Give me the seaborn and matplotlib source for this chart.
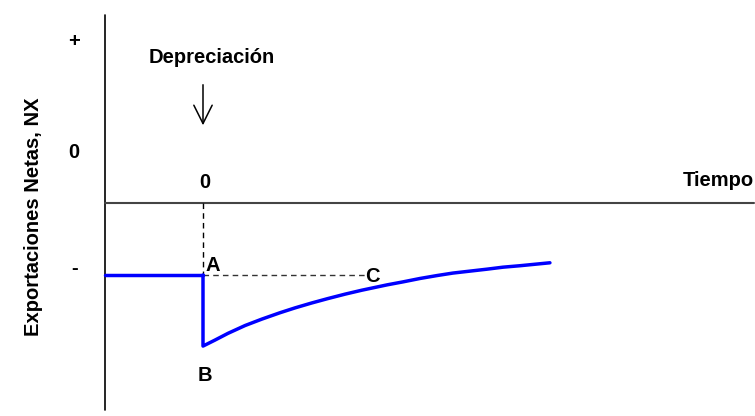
import numpy as np
import pandas as pd
import seaborn as sns
import matplotlib.pyplot as plt

# J-curve: net exports after a depreciation (time 0)
t_pre = [-2.0, 0.0]
nx_pre = [-1.47, -1.47]
t_post = [0.0, 0.0, 0.24, 0.51, 0.86, 1.20, 1.57, 1.88, 2.22, 2.55, 2.90, 3.24,
          3.76, 4.08, 4.43, 4.78, 5.10, 5.45, 5.80, 6.12, 6.47, 7.08]
nx_post = [-1.47, -2.92, -2.80, -2.66, -2.50, -2.37, -2.24, -2.14, -2.04, -1.95, -1.86, -1.78,
           -1.67, -1.61, -1.54, -1.48, -1.43, -1.39, -1.35, -1.31, -1.28, -1.22]

point_a = (0.0, -1.47)
point_b = (0.0, -2.92)
point_c = (3.31, -1.47)

y_labels = ["+", "0", "-"]
y_label_pos = [3.3, 1.04, -1.33]

sns.set_theme(style="white")
plt.rcParams['font.family'] = ['Liberation Sans', 'DejaVu Sans']
plt.rcParams['text.color'] = 'black'

df = pd.DataFrame({"t": t_pre + t_post, "nx": nx_pre + nx_post,
                   "seg": ["pre"] * len(t_pre) + ["post"] * len(t_post)})

fig = plt.figure(figsize=(7.55, 4.16), dpi=100)
ax = fig.add_axes([0, 0, 1, 1])

# axes lines
ax.plot([-2, -2], [3.84, -4.22], color="black", lw=1.2)
ax.plot([-2, 11.24], [0, 0], color="#444444", lw=1.5)

# dashed guides
ax.plot([0, 0], [0, point_a[1]], color="black", lw=1, ls=(0, (4, 3)))
ax.plot([point_a[0], point_c[0]], [point_a[1], point_c[1]], color="#333333", lw=1, ls=(0, (4, 3)))

# J-curve
sns.lineplot(data=df, x="t", y="nx", sort=False, estimator=None, units="seg",
             color="#0000FF", lw=2.5, ax=ax, legend=False)
for ln in ax.lines[-2:]:
    ln.set_solid_joinstyle("round")
ax.set_xlim(-203 / 49, 552 / 49)
ax.set_ylim(-213 / 49, 203 / 49)
ax.axis("off")

fs = 14.5
for lab, yp in zip(y_labels, y_label_pos):
    ax.text(-2.63, yp, lab, ha="center", va="center", fontsize=fs, fontweight="bold")

ax.text(-3.45, -0.29, "Exportaciones Netas, NX", rotation=90, ha="center", va="center",
        fontsize=fs, fontweight="bold")
ax.text(0.18, 2.96, "Depreciación", ha="center", va="center", fontsize=fs, fontweight="bold")
ax.annotate("", xy=(0, 1.53), xytext=(0, 2.47),
            arrowprops=dict(arrowstyle="->,head_length=1.1,head_width=0.55", color="black", lw=1.1))
ax.text(0.04, 0.41, "0", ha="center", va="center", fontsize=fs, fontweight="bold")
ax.text(11.24, 0.46, "Tiempo", ha="right", va="center", fontsize=fs, fontweight="bold")
ax.text(point_a[0] + 0.2, point_a[1] + 0.2, "A", ha="center", va="center", fontsize=fs, fontweight="bold")
ax.text(point_b[0] + 0.04, point_b[1] - 0.6, "B", ha="center", va="center", fontsize=fs, fontweight="bold")
ax.text(point_c[0] + 0.14, point_c[1] - 0.04, "C", ha="center", va="center", fontsize=fs, fontweight="bold")

fig.savefig("out.png", dpi=100)
